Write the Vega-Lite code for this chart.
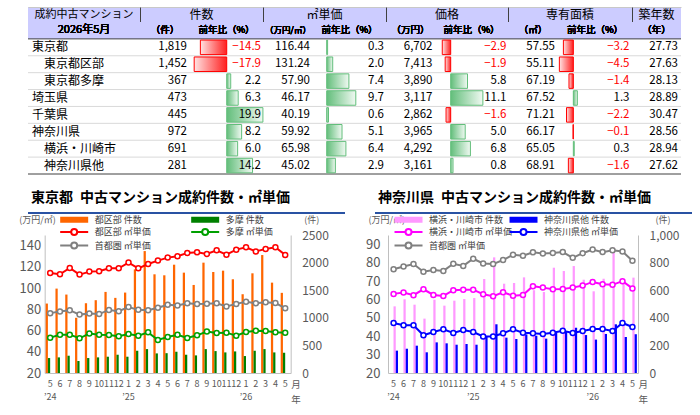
{
"$schema":"https://vega.github.io/schema/vega-lite/v6.json",
"background":"white",
"padding":{"left":18,"top":7,"right":2,"bottom":2},
"config":{"font":"Noto Sans CJK JP","view":{"stroke":null},"text":{"font":"Noto Sans CJK JP"},"title":{"font":"Noto Sans CJK JP"},"axis":{"labelFont":"Noto Sans CJK JP","titleFont":"Noto Sans CJK JP"},"legend":{"labelFont":"Noto Sans CJK JP"}},
"datasets":{
"tbl":[
{"label":"東京都","lv":0,"n":1819,"n_y":-14.5,"u":116.44,"u_y":0.3,"p":6702,"p_y":-2.9,"a":57.55,"a_y":-3.2,"age":27.73},
{"label":"東京都区部","lv":1,"n":1452,"n_y":-17.9,"u":131.24,"u_y":2.0,"p":7413,"p_y":-1.9,"a":55.11,"a_y":-4.5,"age":27.63},
{"label":"東京都多摩","lv":1,"n":367,"n_y":2.2,"u":57.90,"u_y":7.4,"p":3890,"p_y":5.8,"a":67.19,"a_y":-1.4,"age":28.13},
{"label":"埼玉県","lv":0,"n":473,"n_y":6.3,"u":46.17,"u_y":9.7,"p":3117,"p_y":11.1,"a":67.52,"a_y":1.3,"age":28.89},
{"label":"千葉県","lv":0,"n":445,"n_y":19.9,"u":40.19,"u_y":0.6,"p":2862,"p_y":-1.6,"a":71.21,"a_y":-2.2,"age":30.47},
{"label":"神奈川県","lv":0,"n":972,"n_y":8.2,"u":59.92,"u_y":5.1,"p":3965,"p_y":5.0,"a":66.17,"a_y":-0.1,"age":28.56},
{"label":"横浜・川崎市","lv":1,"n":691,"n_y":6.0,"u":65.98,"u_y":6.4,"p":4292,"p_y":6.8,"a":65.05,"a_y":0.3,"age":28.94},
{"label":"神奈川県他","lv":1,"n":281,"n_y":14.2,"u":45.02,"u_y":2.9,"p":3161,"p_y":0.8,"a":68.91,"a_y":-1.6,"age":27.62}
],
"tokyo":[
{"ym":"2024/05","都区部 件数":1258,"多摩 件数":271,"都区部 ㎡単価":114.2,"多摩 ㎡単価":53.3,"首都圏 ㎡単価":76.4},
{"ym":"2024/06","都区部 件数":1529,"多摩 件数":283,"都区部 ㎡単価":113.0,"多摩 ㎡単価":56.1,"首都圏 ㎡単価":77.9},
{"ym":"2024/07","都区部 件数":1421,"多摩 件数":313,"都区部 ㎡単価":119.0,"多摩 ㎡単価":56.1,"首都圏 ㎡単価":79.2},
{"ym":"2024/08","都区部 件数":1000,"多摩 件数":217,"都区部 ㎡単価":112.7,"多摩 ㎡単価":52.7,"首都圏 ㎡単価":75.0},
{"ym":"2024/09","都区部 件数":1264,"多摩 件数":271,"都区部 ㎡単価":115.5,"多摩 ㎡単価":57.1,"首都圏 ㎡単価":76.0},
{"ym":"2024/10","都区部 件数":1319,"多摩 件数":283,"都区部 ㎡単価":115.8,"多摩 ㎡単価":56.1,"首都圏 ㎡単価":75.5},
{"ym":"2024/11","都区部 件数":1469,"多摩 件数":295,"都区部 ㎡単価":118.6,"多摩 ㎡単価":55.8,"首都圏 ㎡単価":79.4},
{"ym":"2024/12","都区部 件数":1361,"多摩 件数":331,"都区部 ㎡単価":118.6,"多摩 ㎡単価":54.6,"首都圏 ㎡単価":78.2},
{"ym":"2025/01","都区部 件数":1457,"多摩 件数":295,"都区部 ㎡単価":124.0,"多摩 ㎡単価":56.8,"首都圏 ㎡単価":82.1},
{"ym":"2025/02","都区部 件数":1878,"多摩 件数":403,"都区部 ㎡単価":118.6,"多摩 ㎡単価":55.2,"首都圏 ㎡単価":79.5},
{"ym":"2025/03","都区部 件数":2209,"多摩 件数":433,"都区部 ㎡単価":122.7,"多摩 ㎡単価":58.3,"首都圏 ㎡単価":79.2},
{"ym":"2025/04","都区部 件数":1788,"多摩 件数":355,"都区部 ㎡単価":125.9,"多摩 ㎡単価":51.1,"首都圏 ㎡単価":81.4},
{"ym":"2025/05","都区部 件数":1770,"多摩 件数":359,"都区部 ㎡単価":128.7,"多摩 ㎡単価":53.9,"首都圏 ㎡単価":84.2},
{"ym":"2025/06","都区部 件数":1962,"多摩 件数":385,"都区部 ㎡単価":130.0,"多摩 ㎡単価":56.1,"首都圏 ㎡単価":83.7},
{"ym":"2025/07","都区部 件数":1818,"多摩 件数":331,"都区部 ㎡単価":133.1,"多摩 ㎡単価":53.0,"首都圏 ㎡単価":85.6},
{"ym":"2025/08","都区部 件数":1595,"多摩 件数":319,"都区部 ㎡単価":133.7,"多摩 ㎡単価":55.5,"首都圏 ㎡単価":85.0},
{"ym":"2025/09","都区部 件数":1999,"多摩 件数":433,"都区部 ㎡単価":132.2,"多摩 ㎡単価":59.0,"首都圏 ㎡単価":85.2},
{"ym":"2025/10","都区部 件数":1830,"多摩 件数":397,"都区部 ㎡単価":135.6,"多摩 ㎡単価":57.7,"首都圏 ㎡単価":85.7},
{"ym":"2025/11","都区部 件数":1854,"多摩 件数":373,"都区部 ㎡単価":131.5,"多摩 ㎡単価":58.0,"首都圏 ㎡単価":82.6},
{"ym":"2025/12","都区部 件数":1698,"多摩 件数":391,"都区部 ㎡単価":136.2,"多摩 ㎡単価":55.2,"首都圏 ㎡単価":85.1},
{"ym":"2026/01","都区部 件数":1427,"多摩 件数":307,"都区部 ㎡単価":138.4,"多摩 ㎡単価":58.6,"首都圏 ㎡単価":87.1},
{"ym":"2026/02","都区部 件数":1806,"多摩 件数":403,"都区部 ㎡単価":134.4,"多摩 ㎡単価":59.9,"首都圏 ㎡単価":85.7},
{"ym":"2026/03","都区部 件数":2137,"多摩 件数":433,"都区部 ㎡単価":136.9,"多摩 ㎡単価":59.6,"首都圏 ㎡単価":86.7},
{"ym":"2026/04","都区部 件数":1637,"多摩 件数":373,"都区部 ㎡単価":138.4,"多摩 ㎡単価":58.3,"首都圏 ㎡単価":86.0},
{"ym":"2026/05","都区部 件数":1452,"多摩 件数":367,"都区部 ㎡単価":131.24,"多摩 ㎡単価":57.90,"首都圏 ㎡単価":81.0}
],
"kana":[
{"ym":"2024/05","横浜・川崎市 件数":483,"神奈川県他 件数":162,"横浜・川崎市 ㎡単価":63.0,"神奈川県他 ㎡単価":47.2,"首都圏 ㎡単価":76.4},
{"ym":"2024/06","横浜・川崎市 件数":534,"神奈川県他 件数":176,"横浜・川崎市 ㎡単価":63.7,"神奈川県他 ㎡単価":45.9,"首都圏 ㎡単価":77.9},
{"ym":"2024/07","横浜・川崎市 件数":495,"神奈川県他 件数":198,"横浜・川崎市 ㎡単価":62.3,"神奈川県他 ㎡単価":45.9,"首都圏 ㎡単価":79.2},
{"ym":"2024/08","横浜・川崎市 件数":394,"神奈川県他 件数":150,"横浜・川崎市 ㎡単価":65.5,"神奈川県他 ㎡単価":40.5,"首都圏 ㎡単価":75.0},
{"ym":"2024/09","横浜・川崎市 件数":531,"神奈川県他 件数":222,"横浜・川崎市 ㎡単価":62.4,"神奈川県他 ㎡単価":42.3,"首都圏 ㎡単価":76.0},
{"ym":"2024/10","横浜・川崎市 件数":488,"神奈川県他 件数":215,"横浜・川崎市 ㎡単価":61.9,"神奈川県他 ㎡単価":43.8,"首都圏 ㎡単価":75.5},
{"ym":"2024/11","横浜・川崎市 件数":524,"神奈川県他 件数":205,"横浜・川崎市 ㎡単価":65.0,"神奈川県他 ㎡単価":41.8,"首都圏 ㎡単価":79.4},
{"ym":"2024/12","横浜・川崎市 件数":536,"神奈川県他 件数":210,"横浜・川崎市 ㎡単価":65.3,"神奈川県他 ㎡単価":43.4,"首都圏 ㎡単価":78.2},
{"ym":"2025/01","横浜・川崎市 件数":543,"神奈川県他 件数":205,"横浜・川崎市 ㎡単価":65.3,"神奈川県他 ㎡単価":42.3,"首都圏 ㎡単価":82.1},
{"ym":"2025/02","横浜・川崎市 件数":681,"神奈川県他 件数":265,"横浜・川崎市 ㎡単価":62.8,"神奈川県他 ㎡単価":39.9,"首都圏 ㎡単価":79.5},
{"ym":"2025/03","横浜・川崎市 件数":838,"神奈川県他 件数":353,"横浜・川崎市 ㎡単価":61.7,"神奈川県他 ㎡単価":39.9,"首都圏 ㎡単価":79.2},
{"ym":"2025/04","横浜・川崎市 件数":647,"神奈川県他 件数":256,"横浜・川崎市 ㎡単価":63.9,"神奈川県他 ㎡単価":41.6,"首都圏 ㎡単価":81.4},
{"ym":"2025/05","横浜・川崎市 件数":652,"神奈川県他 件数":246,"横浜・川崎市 ㎡単価":62.0,"神奈川県他 ㎡単価":43.75,"首都圏 ㎡単価":84.2},
{"ym":"2025/06","横浜・川崎市 件数":693,"神奈川県他 件数":280,"横浜・川崎市 ㎡単価":62.4,"神奈川県他 ㎡単価":41.9,"首都圏 ㎡単価":83.7},
{"ym":"2025/07","横浜・川崎市 件数":600,"神奈川県他 件数":270,"横浜・川崎市 ㎡単価":67.2,"神奈川県他 ㎡単価":41.6,"首都圏 ㎡単価":85.6},
{"ym":"2025/08","横浜・川崎市 件数":587,"神奈川県他 件数":249,"横浜・川崎市 ㎡単価":66.4,"神奈川県他 ㎡単価":41.2,"首都圏 ㎡単価":85.0},
{"ym":"2025/09","横浜・川崎市 件数":763,"神奈川県他 件数":290,"横浜・川崎市 ㎡単価":65.5,"神奈川県他 ㎡単価":41.9,"首都圏 ㎡単価":85.2},
{"ym":"2025/10","横浜・川崎市 件数":739,"神奈川県他 件数":300,"横浜・川崎市 ㎡単価":65.7,"神奈川県他 ㎡単価":43.0,"首都圏 ㎡単価":85.7},
{"ym":"2025/11","横浜・川崎市 件数":775,"神奈川県他 件数":328,"横浜・川崎市 ㎡単価":66.4,"神奈川県他 ㎡単価":41.8,"首都圏 ㎡単価":82.6},
{"ym":"2025/12","横浜・川崎市 件数":676,"神奈川県他 件数":275,"横浜・川崎市 ㎡単価":67.5,"神奈川県他 ㎡単価":42.8,"首都圏 ㎡単価":85.1},
{"ym":"2026/01","横浜・川崎市 件数":592,"神奈川県他 件数":242,"横浜・川崎市 ㎡単価":69.5,"神奈川県他 ㎡単価":43.9,"首都圏 ㎡単価":87.1},
{"ym":"2026/02","横浜・川崎市 件数":683,"神奈川県他 件数":283,"横浜・川崎市 ㎡単価":68.2,"神奈川県他 ㎡単価":43.9,"首都圏 ㎡単価":85.7},
{"ym":"2026/03","横浜・川崎市 件数":908,"神奈川県他 件数":353,"横浜・川崎市 ㎡単価":67.9,"神奈川県他 ㎡単価":42.8,"首都圏 ㎡単価":86.7},
{"ym":"2026/04","横浜・川崎市 件数":660,"神奈川県他 件数":261,"横浜・川崎市 ㎡単価":69.9,"神奈川県他 ㎡単価":47.2,"首都圏 ㎡単価":86.0},
{"ym":"2026/05","横浜・川崎市 件数":691,"神奈川県他 件数":281,"横浜・川崎市 ㎡単価":65.98,"神奈川県他 ㎡単価":45.02,"首都圏 ㎡単価":81.0}
]
},
"spacing":16,
"vconcat":[
{"spacing":0,"vconcat":[
{"spacing":0,"bounds":"flush","hconcat":[
{"width":112,"height":15,"view":{"fill":"#ccccff","stroke":null},"data":{"values":[{}]},"mark":{"type":"text","fontSize":11},"encoding":{"text":{"value":"成約中古マンション"},"x":{"datum":0.5,"type":"quantitative","scale":{"domain":[0,1]},"axis":{"orient":"top","domain":true,"domainColor":"#c8c8c8","labels":false,"ticks":false,"grid":false,"title":null}},"y":{"datum":0.5,"type":"quantitative","scale":{"domain":[0,1]},"axis":null}}},
{"width":123,"height":15,"view":{"fill":"#ccccff","stroke":null},"data":{"values":[{}]},"mark":{"type":"text","fontSize":12},"encoding":{"text":{"value":"件数"},"x":{"datum":0.5,"type":"quantitative","scale":{"domain":[0,1]},"axis":{"orient":"top","domain":true,"domainColor":"#c8c8c8","labels":false,"ticks":false,"grid":false,"title":null}},"y":{"datum":0.5,"type":"quantitative","scale":{"domain":[0,1]},"axis":{"orient":"left","domain":true,"domainColor":"#404040","labels":false,"ticks":false,"grid":false,"title":null,"zindex":1}}}},
{"width":123,"height":15,"view":{"fill":"#ccccff","stroke":null},"data":{"values":[{}]},"mark":{"type":"text","fontSize":12},"encoding":{"text":{"value":"㎡単価"},"x":{"datum":0.5,"type":"quantitative","scale":{"domain":[0,1]},"axis":{"orient":"top","domain":true,"domainColor":"#c8c8c8","labels":false,"ticks":false,"grid":false,"title":null}},"y":{"datum":0.5,"type":"quantitative","scale":{"domain":[0,1]},"axis":{"orient":"left","domain":true,"domainColor":"#404040","labels":false,"ticks":false,"grid":false,"title":null,"zindex":1}}}},
{"width":122,"height":15,"view":{"fill":"#ccccff","stroke":null},"data":{"values":[{}]},"mark":{"type":"text","fontSize":12},"encoding":{"text":{"value":"価格"},"x":{"datum":0.5,"type":"quantitative","scale":{"domain":[0,1]},"axis":{"orient":"top","domain":true,"domainColor":"#c8c8c8","labels":false,"ticks":false,"grid":false,"title":null}},"y":{"datum":0.5,"type":"quantitative","scale":{"domain":[0,1]},"axis":{"orient":"left","domain":true,"domainColor":"#404040","labels":false,"ticks":false,"grid":false,"title":null,"zindex":1}}}},
{"width":124,"height":15,"view":{"fill":"#ccccff","stroke":null},"data":{"values":[{}]},"mark":{"type":"text","fontSize":12},"encoding":{"text":{"value":"専有面積"},"x":{"datum":0.5,"type":"quantitative","scale":{"domain":[0,1]},"axis":{"orient":"top","domain":true,"domainColor":"#c8c8c8","labels":false,"ticks":false,"grid":false,"title":null}},"y":{"datum":0.5,"type":"quantitative","scale":{"domain":[0,1]},"axis":{"orient":"left","domain":true,"domainColor":"#404040","labels":false,"ticks":false,"grid":false,"title":null,"zindex":1}}}},
{"width":49,"height":15,"view":{"fill":"#ccccff","stroke":null},"data":{"values":[{}]},"mark":{"type":"text","fontSize":12},"encoding":{"text":{"value":"築年数"},"x":{"datum":0.5,"type":"quantitative","scale":{"domain":[0,1]},"axis":{"orient":"top","domain":true,"domainColor":"#c8c8c8","labels":false,"ticks":false,"grid":false,"title":null}},"y":{"datum":0.5,"type":"quantitative","scale":{"domain":[0,1]},"axis":{"orient":"left","domain":true,"domainColor":"#404040","labels":false,"ticks":false,"grid":false,"title":null,"zindex":1}}}}
]},
{"spacing":0,"bounds":"flush","hconcat":[
{"width":112,"height":152,"data":{"name":"tbl"},"layer":[
{"mark":{"type":"rect","color":"#ccccff"},"encoding":{"y":{"datum":"h","type":"nominal","scale":{"type":"band","domain":["h","東京都","東京都区部","東京都多摩","埼玉県","千葉県","神奈川県","横浜・川崎市","神奈川県他"],"paddingInner":0,"paddingOuter":0},"axis":null},"x":{"value":0},"x2":{"value":"width"}}},
{"mark":{"type":"rule","strokeWidth":1},"encoding":{"y":{"field":"label","type":"nominal","sort":null,"bandPosition":0,"scale":{"type":"band","domain":["h","東京都","東京都区部","東京都多摩","埼玉県","千葉県","神奈川県","横浜・川崎市","神奈川県他"],"paddingInner":0,"paddingOuter":0},"axis":null},"color":{"condition":{"test":"datum.label=='東京都'","value":"#404040"},"value":"#d9d9d9"}}},
{"transform":[{"filter":"datum.label=='神奈川県他'"}],"mark":{"type":"rule","strokeWidth":1,"color":"#404040"},"encoding":{"y":{"field":"label","type":"nominal","sort":null,"bandPosition":1,"scale":{"type":"band","domain":["h","東京都","東京都区部","東京都多摩","埼玉県","千葉県","神奈川県","横浜・川崎市","神奈川県他"],"paddingInner":0,"paddingOuter":0},"axis":null}}},
{"mark":{"type":"text","fontSize":11},"encoding":{"y":{"datum":"h","type":"nominal","bandPosition":0.5,"scale":{"type":"band","domain":["h","東京都","東京都区部","東京都多摩","埼玉県","千葉県","神奈川県","横浜・川崎市","神奈川県他"],"paddingInner":0,"paddingOuter":0},"axis":null},"text":{"value":"2026年5月"}}},
{"mark":{"type":"text","align":"left","fontSize":12},"encoding":{"y":{"field":"label","type":"nominal","sort":null,"bandPosition":0.5,"scale":{"type":"band","domain":["h","東京都","東京都区部","東京都多摩","埼玉県","千葉県","神奈川県","横浜・川崎市","神奈川県他"],"paddingInner":0,"paddingOuter":0},"axis":null},"x":{"field":"lv","type":"quantitative","scale":{"domain":[0,1],"range":[4,16]},"axis":null},"text":{"field":"label"}}}
]},
{"width":50,"height":152,"data":{"name":"tbl"},"layer":[
{"mark":{"type":"rect","color":"#ccccff"},"encoding":{"y":{"datum":"h","type":"nominal","scale":{"type":"band","domain":["h","東京都","東京都区部","東京都多摩","埼玉県","千葉県","神奈川県","横浜・川崎市","神奈川県他"],"paddingInner":0,"paddingOuter":0},"axis":null},"x":{"value":0},"x2":{"value":"width"}}},
{"mark":{"type":"rule","strokeWidth":1},"encoding":{"y":{"field":"label","type":"nominal","sort":null,"bandPosition":0,"scale":{"type":"band","domain":["h","東京都","東京都区部","東京都多摩","埼玉県","千葉県","神奈川県","横浜・川崎市","神奈川県他"],"paddingInner":0,"paddingOuter":0},"axis":{"orient":"left","domain":true,"domainColor":"#404040","labels":false,"ticks":false,"grid":false,"title":null,"zindex":1}},"color":{"condition":{"test":"datum.label=='東京都'","value":"#404040"},"value":"#d9d9d9"}}},
{"transform":[{"filter":"datum.label=='神奈川県他'"}],"mark":{"type":"rule","strokeWidth":1,"color":"#404040"},"encoding":{"y":{"field":"label","type":"nominal","sort":null,"bandPosition":1,"scale":{"type":"band","domain":["h","東京都","東京都区部","東京都多摩","埼玉県","千葉県","神奈川県","横浜・川崎市","神奈川県他"],"paddingInner":0,"paddingOuter":0},"axis":null}}},
{"mark":{"type":"text","fontSize":9.5},"encoding":{"y":{"datum":"h","type":"nominal","bandPosition":0.5,"scale":{"type":"band","domain":["h","東京都","東京都区部","東京都多摩","埼玉県","千葉県","神奈川県","横浜・川崎市","神奈川県他"],"paddingInner":0,"paddingOuter":0},"axis":null},"text":{"value":"（件）"}}},
{"mark":{"type":"text","align":"right","dx":-3,"fontSize":11.5},"encoding":{"y":{"field":"label","type":"nominal","sort":null,"bandPosition":0.5,"scale":{"type":"band","domain":["h","東京都","東京都区部","東京都多摩","埼玉県","千葉県","神奈川県","横浜・川崎市","神奈川県他"],"paddingInner":0,"paddingOuter":0},"axis":null},"x":{"value":"width"},"text":{"field":"n","type":"quantitative","format":",d"}}}
]},
{"width":73,"height":152,"data":{"name":"tbl"},"layer":[
{"mark":{"type":"rect","color":"#ccccff"},"encoding":{"y":{"datum":"h","type":"nominal","scale":{"type":"band","domain":["h","東京都","東京都区部","東京都多摩","埼玉県","千葉県","神奈川県","横浜・川崎市","神奈川県他"],"paddingInner":0,"paddingOuter":0},"axis":null},"x":{"value":0},"x2":{"value":"width"}}},
{"mark":{"type":"rule","strokeWidth":1},"encoding":{"y":{"field":"label","type":"nominal","sort":null,"bandPosition":0,"scale":{"type":"band","domain":["h","東京都","東京都区部","東京都多摩","埼玉県","千葉県","神奈川県","横浜・川崎市","神奈川県他"],"paddingInner":0,"paddingOuter":0},"axis":{"orient":"left","domain":true,"domainColor":"#d0d0d0","labels":false,"ticks":false,"grid":false,"title":null,"zindex":0}},"color":{"condition":{"test":"datum.label=='東京都'","value":"#404040"},"value":"#d9d9d9"}}},
{"transform":[{"filter":"datum.label=='神奈川県他'"}],"mark":{"type":"rule","strokeWidth":1,"color":"#404040"},"encoding":{"y":{"field":"label","type":"nominal","sort":null,"bandPosition":1,"scale":{"type":"band","domain":["h","東京都","東京都区部","東京都多摩","埼玉県","千葉県","神奈川県","横浜・川崎市","神奈川県他"],"paddingInner":0,"paddingOuter":0},"axis":null}}},
{"transform":[{"filter":"datum.n_y < 0"}],"mark":{"type":"bar","height":{"band":0.86},"fill":{"gradient":"linear","x1":0,"y1":0,"x2":1,"y2":0,"stops":[{"offset":0,"color":"#ffe3e3"},{"offset":1,"color":"#ff1f1f"}]},"stroke":"#ff0000","strokeWidth":1},"encoding":{"y":{"field":"label","type":"nominal","sort":null,"scale":{"type":"band","domain":["h","東京都","東京都区部","東京都多摩","埼玉県","千葉県","神奈川県","横浜・川崎市","神奈川県他"],"paddingInner":0,"paddingOuter":0},"axis":null},"x":{"field":"n_y","type":"quantitative","scale":{"domain":[-20.2,19.95],"nice":false,"zero":false},"axis":null},"x2":{"datum":0}}},
{"transform":[{"filter":"datum.n_y >= 0"}],"mark":{"type":"bar","height":{"band":0.86},"fill":{"gradient":"linear","x1":0,"y1":0,"x2":1,"y2":0,"stops":[{"offset":0,"color":"#63be7b"},{"offset":1,"color":"#f0f9f2"}]},"stroke":"#63be7b","strokeWidth":1},"encoding":{"y":{"field":"label","type":"nominal","sort":null,"scale":{"type":"band","domain":["h","東京都","東京都区部","東京都多摩","埼玉県","千葉県","神奈川県","横浜・川崎市","神奈川県他"],"paddingInner":0,"paddingOuter":0},"axis":null},"x":{"field":"n_y","type":"quantitative","scale":{"domain":[-20.2,19.95],"nice":false,"zero":false},"axis":null},"x2":{"datum":0}}},
{"mark":{"type":"text","fontSize":9.5},"encoding":{"y":{"datum":"h","type":"nominal","bandPosition":0.5,"scale":{"type":"band","domain":["h","東京都","東京都区部","東京都多摩","埼玉県","千葉県","神奈川県","横浜・川崎市","神奈川県他"],"paddingInner":0,"paddingOuter":0},"axis":null},"text":{"value":"前年比（%）"}}},
{"mark":{"type":"text","align":"right","dx":-2,"fontSize":11.5},"encoding":{"y":{"field":"label","type":"nominal","sort":null,"bandPosition":0.5,"scale":{"type":"band","domain":["h","東京都","東京都区部","東京都多摩","埼玉県","千葉県","神奈川県","横浜・川崎市","神奈川県他"],"paddingInner":0,"paddingOuter":0},"axis":null},"x":{"value":"width"},"text":{"field":"n_y","type":"quantitative","format":".1f"},"color":{"condition":{"test":"datum.n_y < 0","value":"#ff0000"},"value":"#000000"}}}
]},
{"width":50,"height":152,"data":{"name":"tbl"},"layer":[
{"mark":{"type":"rect","color":"#ccccff"},"encoding":{"y":{"datum":"h","type":"nominal","scale":{"type":"band","domain":["h","東京都","東京都区部","東京都多摩","埼玉県","千葉県","神奈川県","横浜・川崎市","神奈川県他"],"paddingInner":0,"paddingOuter":0},"axis":null},"x":{"value":0},"x2":{"value":"width"}}},
{"mark":{"type":"rule","strokeWidth":1},"encoding":{"y":{"field":"label","type":"nominal","sort":null,"bandPosition":0,"scale":{"type":"band","domain":["h","東京都","東京都区部","東京都多摩","埼玉県","千葉県","神奈川県","横浜・川崎市","神奈川県他"],"paddingInner":0,"paddingOuter":0},"axis":{"orient":"left","domain":true,"domainColor":"#404040","labels":false,"ticks":false,"grid":false,"title":null,"zindex":1}},"color":{"condition":{"test":"datum.label=='東京都'","value":"#404040"},"value":"#d9d9d9"}}},
{"transform":[{"filter":"datum.label=='神奈川県他'"}],"mark":{"type":"rule","strokeWidth":1,"color":"#404040"},"encoding":{"y":{"field":"label","type":"nominal","sort":null,"bandPosition":1,"scale":{"type":"band","domain":["h","東京都","東京都区部","東京都多摩","埼玉県","千葉県","神奈川県","横浜・川崎市","神奈川県他"],"paddingInner":0,"paddingOuter":0},"axis":null}}},
{"mark":{"type":"text","fontSize":8.5},"encoding":{"y":{"datum":"h","type":"nominal","bandPosition":0.5,"scale":{"type":"band","domain":["h","東京都","東京都区部","東京都多摩","埼玉県","千葉県","神奈川県","横浜・川崎市","神奈川県他"],"paddingInner":0,"paddingOuter":0},"axis":null},"text":{"value":"（万円/㎡）"}}},
{"mark":{"type":"text","align":"right","dx":-3,"fontSize":11.5},"encoding":{"y":{"field":"label","type":"nominal","sort":null,"bandPosition":0.5,"scale":{"type":"band","domain":["h","東京都","東京都区部","東京都多摩","埼玉県","千葉県","神奈川県","横浜・川崎市","神奈川県他"],"paddingInner":0,"paddingOuter":0},"axis":null},"x":{"value":"width"},"text":{"field":"u","type":"quantitative","format":".2f"}}}
]},
{"width":73,"height":152,"data":{"name":"tbl"},"layer":[
{"mark":{"type":"rect","color":"#ccccff"},"encoding":{"y":{"datum":"h","type":"nominal","scale":{"type":"band","domain":["h","東京都","東京都区部","東京都多摩","埼玉県","千葉県","神奈川県","横浜・川崎市","神奈川県他"],"paddingInner":0,"paddingOuter":0},"axis":null},"x":{"value":0},"x2":{"value":"width"}}},
{"mark":{"type":"rule","strokeWidth":1},"encoding":{"y":{"field":"label","type":"nominal","sort":null,"bandPosition":0,"scale":{"type":"band","domain":["h","東京都","東京都区部","東京都多摩","埼玉県","千葉県","神奈川県","横浜・川崎市","神奈川県他"],"paddingInner":0,"paddingOuter":0},"axis":{"orient":"left","domain":true,"domainColor":"#d0d0d0","labels":false,"ticks":false,"grid":false,"title":null,"zindex":0}},"color":{"condition":{"test":"datum.label=='東京都'","value":"#404040"},"value":"#d9d9d9"}}},
{"transform":[{"filter":"datum.label=='神奈川県他'"}],"mark":{"type":"rule","strokeWidth":1,"color":"#404040"},"encoding":{"y":{"field":"label","type":"nominal","sort":null,"bandPosition":1,"scale":{"type":"band","domain":["h","東京都","東京都区部","東京都多摩","埼玉県","千葉県","神奈川県","横浜・川崎市","神奈川県他"],"paddingInner":0,"paddingOuter":0},"axis":null}}},
{"transform":[{"filter":"datum.u_y < 0"}],"mark":{"type":"bar","height":{"band":0.86},"fill":{"gradient":"linear","x1":0,"y1":0,"x2":1,"y2":0,"stops":[{"offset":0,"color":"#ffe3e3"},{"offset":1,"color":"#ff1f1f"}]},"stroke":"#ff0000","strokeWidth":1},"encoding":{"y":{"field":"label","type":"nominal","sort":null,"scale":{"type":"band","domain":["h","東京都","東京都区部","東京都多摩","埼玉県","千葉県","神奈川県","横浜・川崎市","神奈川県他"],"paddingInner":0,"paddingOuter":0},"axis":null},"x":{"field":"u_y","type":"quantitative","scale":{"domain":[-4.57,19.77],"nice":false,"zero":false},"axis":null},"x2":{"datum":0}}},
{"transform":[{"filter":"datum.u_y >= 0"}],"mark":{"type":"bar","height":{"band":0.86},"fill":{"gradient":"linear","x1":0,"y1":0,"x2":1,"y2":0,"stops":[{"offset":0,"color":"#63be7b"},{"offset":1,"color":"#f0f9f2"}]},"stroke":"#63be7b","strokeWidth":1},"encoding":{"y":{"field":"label","type":"nominal","sort":null,"scale":{"type":"band","domain":["h","東京都","東京都区部","東京都多摩","埼玉県","千葉県","神奈川県","横浜・川崎市","神奈川県他"],"paddingInner":0,"paddingOuter":0},"axis":null},"x":{"field":"u_y","type":"quantitative","scale":{"domain":[-4.57,19.77],"nice":false,"zero":false},"axis":null},"x2":{"datum":0}}},
{"mark":{"type":"text","fontSize":9.5},"encoding":{"y":{"datum":"h","type":"nominal","bandPosition":0.5,"scale":{"type":"band","domain":["h","東京都","東京都区部","東京都多摩","埼玉県","千葉県","神奈川県","横浜・川崎市","神奈川県他"],"paddingInner":0,"paddingOuter":0},"axis":null},"text":{"value":"前年比（%）"}}},
{"mark":{"type":"text","align":"right","dx":-2,"fontSize":11.5},"encoding":{"y":{"field":"label","type":"nominal","sort":null,"bandPosition":0.5,"scale":{"type":"band","domain":["h","東京都","東京都区部","東京都多摩","埼玉県","千葉県","神奈川県","横浜・川崎市","神奈川県他"],"paddingInner":0,"paddingOuter":0},"axis":null},"x":{"value":"width"},"text":{"field":"u_y","type":"quantitative","format":".1f"},"color":{"condition":{"test":"datum.u_y < 0","value":"#ff0000"},"value":"#000000"}}}
]},
{"width":49,"height":152,"data":{"name":"tbl"},"layer":[
{"mark":{"type":"rect","color":"#ccccff"},"encoding":{"y":{"datum":"h","type":"nominal","scale":{"type":"band","domain":["h","東京都","東京都区部","東京都多摩","埼玉県","千葉県","神奈川県","横浜・川崎市","神奈川県他"],"paddingInner":0,"paddingOuter":0},"axis":null},"x":{"value":0},"x2":{"value":"width"}}},
{"mark":{"type":"rule","strokeWidth":1},"encoding":{"y":{"field":"label","type":"nominal","sort":null,"bandPosition":0,"scale":{"type":"band","domain":["h","東京都","東京都区部","東京都多摩","埼玉県","千葉県","神奈川県","横浜・川崎市","神奈川県他"],"paddingInner":0,"paddingOuter":0},"axis":{"orient":"left","domain":true,"domainColor":"#404040","labels":false,"ticks":false,"grid":false,"title":null,"zindex":1}},"color":{"condition":{"test":"datum.label=='東京都'","value":"#404040"},"value":"#d9d9d9"}}},
{"transform":[{"filter":"datum.label=='神奈川県他'"}],"mark":{"type":"rule","strokeWidth":1,"color":"#404040"},"encoding":{"y":{"field":"label","type":"nominal","sort":null,"bandPosition":1,"scale":{"type":"band","domain":["h","東京都","東京都区部","東京都多摩","埼玉県","千葉県","神奈川県","横浜・川崎市","神奈川県他"],"paddingInner":0,"paddingOuter":0},"axis":null}}},
{"mark":{"type":"text","fontSize":9.5},"encoding":{"y":{"datum":"h","type":"nominal","bandPosition":0.5,"scale":{"type":"band","domain":["h","東京都","東京都区部","東京都多摩","埼玉県","千葉県","神奈川県","横浜・川崎市","神奈川県他"],"paddingInner":0,"paddingOuter":0},"axis":null},"text":{"value":"（万円）"}}},
{"mark":{"type":"text","align":"right","dx":-2.5,"fontSize":11.5},"encoding":{"y":{"field":"label","type":"nominal","sort":null,"bandPosition":0.5,"scale":{"type":"band","domain":["h","東京都","東京都区部","東京都多摩","埼玉県","千葉県","神奈川県","横浜・川崎市","神奈川県他"],"paddingInner":0,"paddingOuter":0},"axis":null},"x":{"value":"width"},"text":{"field":"p","type":"quantitative","format":",d"}}}
]},
{"width":73,"height":152,"data":{"name":"tbl"},"layer":[
{"mark":{"type":"rect","color":"#ccccff"},"encoding":{"y":{"datum":"h","type":"nominal","scale":{"type":"band","domain":["h","東京都","東京都区部","東京都多摩","埼玉県","千葉県","神奈川県","横浜・川崎市","神奈川県他"],"paddingInner":0,"paddingOuter":0},"axis":null},"x":{"value":0},"x2":{"value":"width"}}},
{"mark":{"type":"rule","strokeWidth":1},"encoding":{"y":{"field":"label","type":"nominal","sort":null,"bandPosition":0,"scale":{"type":"band","domain":["h","東京都","東京都区部","東京都多摩","埼玉県","千葉県","神奈川県","横浜・川崎市","神奈川県他"],"paddingInner":0,"paddingOuter":0},"axis":{"orient":"left","domain":true,"domainColor":"#d0d0d0","labels":false,"ticks":false,"grid":false,"title":null,"zindex":0}},"color":{"condition":{"test":"datum.label=='東京都'","value":"#404040"},"value":"#d9d9d9"}}},
{"transform":[{"filter":"datum.label=='神奈川県他'"}],"mark":{"type":"rule","strokeWidth":1,"color":"#404040"},"encoding":{"y":{"field":"label","type":"nominal","sort":null,"bandPosition":1,"scale":{"type":"band","domain":["h","東京都","東京都区部","東京都多摩","埼玉県","千葉県","神奈川県","横浜・川崎市","神奈川県他"],"paddingInner":0,"paddingOuter":0},"axis":null}}},
{"transform":[{"filter":"datum.p_y < 0"}],"mark":{"type":"bar","height":{"band":0.86},"fill":{"gradient":"linear","x1":0,"y1":0,"x2":1,"y2":0,"stops":[{"offset":0,"color":"#ffe3e3"},{"offset":1,"color":"#ff1f1f"}]},"stroke":"#ff0000","strokeWidth":1},"encoding":{"y":{"field":"label","type":"nominal","sort":null,"scale":{"type":"band","domain":["h","東京都","東京都区部","東京都多摩","埼玉県","千葉県","神奈川県","横浜・川崎市","神奈川県他"],"paddingInner":0,"paddingOuter":0},"axis":null},"x":{"field":"p_y","type":"quantitative","scale":{"domain":[-5.41,19.76],"nice":false,"zero":false},"axis":null},"x2":{"datum":0}}},
{"transform":[{"filter":"datum.p_y >= 0"}],"mark":{"type":"bar","height":{"band":0.86},"fill":{"gradient":"linear","x1":0,"y1":0,"x2":1,"y2":0,"stops":[{"offset":0,"color":"#63be7b"},{"offset":1,"color":"#f0f9f2"}]},"stroke":"#63be7b","strokeWidth":1},"encoding":{"y":{"field":"label","type":"nominal","sort":null,"scale":{"type":"band","domain":["h","東京都","東京都区部","東京都多摩","埼玉県","千葉県","神奈川県","横浜・川崎市","神奈川県他"],"paddingInner":0,"paddingOuter":0},"axis":null},"x":{"field":"p_y","type":"quantitative","scale":{"domain":[-5.41,19.76],"nice":false,"zero":false},"axis":null},"x2":{"datum":0}}},
{"mark":{"type":"text","fontSize":9.5},"encoding":{"y":{"datum":"h","type":"nominal","bandPosition":0.5,"scale":{"type":"band","domain":["h","東京都","東京都区部","東京都多摩","埼玉県","千葉県","神奈川県","横浜・川崎市","神奈川県他"],"paddingInner":0,"paddingOuter":0},"axis":null},"text":{"value":"前年比（%）"}}},
{"mark":{"type":"text","align":"right","dx":-1.5,"fontSize":11.5},"encoding":{"y":{"field":"label","type":"nominal","sort":null,"bandPosition":0.5,"scale":{"type":"band","domain":["h","東京都","東京都区部","東京都多摩","埼玉県","千葉県","神奈川県","横浜・川崎市","神奈川県他"],"paddingInner":0,"paddingOuter":0},"axis":null},"x":{"value":"width"},"text":{"field":"p_y","type":"quantitative","format":".1f"},"color":{"condition":{"test":"datum.p_y < 0","value":"#ff0000"},"value":"#000000"}}}
]},
{"width":50,"height":152,"data":{"name":"tbl"},"layer":[
{"mark":{"type":"rect","color":"#ccccff"},"encoding":{"y":{"datum":"h","type":"nominal","scale":{"type":"band","domain":["h","東京都","東京都区部","東京都多摩","埼玉県","千葉県","神奈川県","横浜・川崎市","神奈川県他"],"paddingInner":0,"paddingOuter":0},"axis":null},"x":{"value":0},"x2":{"value":"width"}}},
{"mark":{"type":"rule","strokeWidth":1},"encoding":{"y":{"field":"label","type":"nominal","sort":null,"bandPosition":0,"scale":{"type":"band","domain":["h","東京都","東京都区部","東京都多摩","埼玉県","千葉県","神奈川県","横浜・川崎市","神奈川県他"],"paddingInner":0,"paddingOuter":0},"axis":{"orient":"left","domain":true,"domainColor":"#404040","labels":false,"ticks":false,"grid":false,"title":null,"zindex":1}},"color":{"condition":{"test":"datum.label=='東京都'","value":"#404040"},"value":"#d9d9d9"}}},
{"transform":[{"filter":"datum.label=='神奈川県他'"}],"mark":{"type":"rule","strokeWidth":1,"color":"#404040"},"encoding":{"y":{"field":"label","type":"nominal","sort":null,"bandPosition":1,"scale":{"type":"band","domain":["h","東京都","東京都区部","東京都多摩","埼玉県","千葉県","神奈川県","横浜・川崎市","神奈川県他"],"paddingInner":0,"paddingOuter":0},"axis":null}}},
{"mark":{"type":"text","fontSize":9.5},"encoding":{"y":{"datum":"h","type":"nominal","bandPosition":0.5,"scale":{"type":"band","domain":["h","東京都","東京都区部","東京都多摩","埼玉県","千葉県","神奈川県","横浜・川崎市","神奈川県他"],"paddingInner":0,"paddingOuter":0},"axis":null},"text":{"value":"（㎡）"}}},
{"mark":{"type":"text","align":"right","dx":-3,"fontSize":11.5},"encoding":{"y":{"field":"label","type":"nominal","sort":null,"bandPosition":0.5,"scale":{"type":"band","domain":["h","東京都","東京都区部","東京都多摩","埼玉県","千葉県","神奈川県","横浜・川崎市","神奈川県他"],"paddingInner":0,"paddingOuter":0},"axis":null},"x":{"value":"width"},"text":{"field":"a","type":"quantitative","format":".2f"}}}
]},
{"width":74,"height":152,"data":{"name":"tbl"},"layer":[
{"mark":{"type":"rect","color":"#ccccff"},"encoding":{"y":{"datum":"h","type":"nominal","scale":{"type":"band","domain":["h","東京都","東京都区部","東京都多摩","埼玉県","千葉県","神奈川県","横浜・川崎市","神奈川県他"],"paddingInner":0,"paddingOuter":0},"axis":null},"x":{"value":0},"x2":{"value":"width"}}},
{"mark":{"type":"rule","strokeWidth":1},"encoding":{"y":{"field":"label","type":"nominal","sort":null,"bandPosition":0,"scale":{"type":"band","domain":["h","東京都","東京都区部","東京都多摩","埼玉県","千葉県","神奈川県","横浜・川崎市","神奈川県他"],"paddingInner":0,"paddingOuter":0},"axis":{"orient":"left","domain":true,"domainColor":"#d0d0d0","labels":false,"ticks":false,"grid":false,"title":null,"zindex":0}},"color":{"condition":{"test":"datum.label=='東京都'","value":"#404040"},"value":"#d9d9d9"}}},
{"transform":[{"filter":"datum.label=='神奈川県他'"}],"mark":{"type":"rule","strokeWidth":1,"color":"#404040"},"encoding":{"y":{"field":"label","type":"nominal","sort":null,"bandPosition":1,"scale":{"type":"band","domain":["h","東京都","東京都区部","東京都多摩","埼玉県","千葉県","神奈川県","横浜・川崎市","神奈川県他"],"paddingInner":0,"paddingOuter":0},"axis":null}}},
{"transform":[{"filter":"datum.a_y < 0"}],"mark":{"type":"bar","height":{"band":0.86},"fill":{"gradient":"linear","x1":0,"y1":0,"x2":1,"y2":0,"stops":[{"offset":0,"color":"#ffe3e3"},{"offset":1,"color":"#ff1f1f"}]},"stroke":"#ff0000","strokeWidth":1},"encoding":{"y":{"field":"label","type":"nominal","sort":null,"scale":{"type":"band","domain":["h","東京都","東京都区部","東京都多摩","埼玉県","千葉県","神奈川県","横浜・川崎市","神奈川県他"],"paddingInner":0,"paddingOuter":0},"axis":null},"x":{"field":"a_y","type":"quantitative","scale":{"domain":[-4.94,18.9],"nice":false,"zero":false},"axis":null},"x2":{"datum":0}}},
{"transform":[{"filter":"datum.a_y >= 0"}],"mark":{"type":"bar","height":{"band":0.86},"fill":{"gradient":"linear","x1":0,"y1":0,"x2":1,"y2":0,"stops":[{"offset":0,"color":"#63be7b"},{"offset":1,"color":"#f0f9f2"}]},"stroke":"#63be7b","strokeWidth":1},"encoding":{"y":{"field":"label","type":"nominal","sort":null,"scale":{"type":"band","domain":["h","東京都","東京都区部","東京都多摩","埼玉県","千葉県","神奈川県","横浜・川崎市","神奈川県他"],"paddingInner":0,"paddingOuter":0},"axis":null},"x":{"field":"a_y","type":"quantitative","scale":{"domain":[-4.94,18.9],"nice":false,"zero":false},"axis":null},"x2":{"datum":0}}},
{"mark":{"type":"text","fontSize":9.5},"encoding":{"y":{"datum":"h","type":"nominal","bandPosition":0.5,"scale":{"type":"band","domain":["h","東京都","東京都区部","東京都多摩","埼玉県","千葉県","神奈川県","横浜・川崎市","神奈川県他"],"paddingInner":0,"paddingOuter":0},"axis":null},"text":{"value":"前年比（%）"}}},
{"mark":{"type":"text","align":"right","dx":-2.5,"fontSize":11.5},"encoding":{"y":{"field":"label","type":"nominal","sort":null,"bandPosition":0.5,"scale":{"type":"band","domain":["h","東京都","東京都区部","東京都多摩","埼玉県","千葉県","神奈川県","横浜・川崎市","神奈川県他"],"paddingInner":0,"paddingOuter":0},"axis":null},"x":{"value":"width"},"text":{"field":"a_y","type":"quantitative","format":".1f"},"color":{"condition":{"test":"datum.a_y < 0","value":"#ff0000"},"value":"#000000"}}}
]},
{"width":49,"height":152,"data":{"name":"tbl"},"layer":[
{"mark":{"type":"rect","color":"#ccccff"},"encoding":{"y":{"datum":"h","type":"nominal","scale":{"type":"band","domain":["h","東京都","東京都区部","東京都多摩","埼玉県","千葉県","神奈川県","横浜・川崎市","神奈川県他"],"paddingInner":0,"paddingOuter":0},"axis":null},"x":{"value":0},"x2":{"value":"width"}}},
{"mark":{"type":"rule","strokeWidth":1},"encoding":{"y":{"field":"label","type":"nominal","sort":null,"bandPosition":0,"scale":{"type":"band","domain":["h","東京都","東京都区部","東京都多摩","埼玉県","千葉県","神奈川県","横浜・川崎市","神奈川県他"],"paddingInner":0,"paddingOuter":0},"axis":{"orient":"left","domain":true,"domainColor":"#404040","labels":false,"ticks":false,"grid":false,"title":null,"zindex":1}},"color":{"condition":{"test":"datum.label=='東京都'","value":"#404040"},"value":"#d9d9d9"}}},
{"transform":[{"filter":"datum.label=='神奈川県他'"}],"mark":{"type":"rule","strokeWidth":1,"color":"#404040"},"encoding":{"y":{"field":"label","type":"nominal","sort":null,"bandPosition":1,"scale":{"type":"band","domain":["h","東京都","東京都区部","東京都多摩","埼玉県","千葉県","神奈川県","横浜・川崎市","神奈川県他"],"paddingInner":0,"paddingOuter":0},"axis":null}}},
{"mark":{"type":"text","fontSize":9.5},"encoding":{"y":{"datum":"h","type":"nominal","bandPosition":0.5,"scale":{"type":"band","domain":["h","東京都","東京都区部","東京都多摩","埼玉県","千葉県","神奈川県","横浜・川崎市","神奈川県他"],"paddingInner":0,"paddingOuter":0},"axis":null},"text":{"value":"（年）"}}},
{"mark":{"type":"text","align":"right","dx":-3,"fontSize":11.5},"encoding":{"y":{"field":"label","type":"nominal","sort":null,"bandPosition":0.5,"scale":{"type":"band","domain":["h","東京都","東京都区部","東京都多摩","埼玉県","千葉県","神奈川県","横浜・川崎市","神奈川県他"],"paddingInner":0,"paddingOuter":0},"axis":null},"x":{"value":"width"},"text":{"field":"age","type":"quantitative","format":".2f"}}}
]}
]}
]},
{"spacing":20,"hconcat":[
{"spacing":-3,"center":true,"vconcat":[
{"width":317,"height":2,"view":{"fill":"#2952a3","stroke":null},"title":{"text":"東京都\u2002中古マンション成約件数・㎡単価","anchor":"start","dx":3,"offset":2,"fontSize":14,"fontWeight":"bold","color":"#000000"},"data":{"values":[{}]},"mark":"text","encoding":{"text":{"value":""}}},
{"width":246,"height":138,"data":{"name":"tokyo"},
"layer":[
{"transform":[{"fold":["都区部 件数","多摩 件数"],"as":["series","v"]}],"mark":{"type":"bar"},
"encoding":{"x":{"field":"ym","type":"nominal","scale":{"paddingInner":0.08,"paddingOuter":0.1},"axis":{"orient":"bottom","labelExpr":"(datum.value=='2024/05'||substring(datum.value,5,7)=='01') ? '’'+substring(datum.value,2,4) : ''","labelAngle":0,"labelFontSize":9,"labelColor":"#595959","labelPadding":19,"labelOverlap":false,"ticks":false,"domain":false,"grid":false,"title":"年","titleAngle":0,"titleAlign":"left","titleBaseline":"top","titleX":246,"titleY":21,"titleFontSize":9.5,"titleFontWeight":"normal","titleColor":"#595959"}},
"xOffset":{"field":"series","type":"nominal","scale":{"domain":["都区部 件数","多摩 件数"],"paddingInner":0,"paddingOuter":0}},
"y":{"field":"v","type":"quantitative","scale":{"domain":[0,2500],"nice":false},"axis":{"orient":"right","values":[0,500,1000,1500,2000,2500],"format":"d","labelFontSize":12,"labelColor":"#595959","labelPadding":11,"ticks":false,"grid":false,"domainColor":"#bfbfbf","title":"(件)","titleAngle":0,"titleAlign":"left","titleBaseline":"middle","titleX":13,"titleY":-16,"titleFontSize":9,"titleFontWeight":"normal","titleColor":"#595959"}},
"color":{"field":"series","type":"nominal","scale":{"domain":["都区部 件数","多摩 件数"],"range":["#ff6600","#008000"]},"legend":null}}},
{"transform":[{"fold":["都区部 ㎡単価","多摩 ㎡単価","首都圏 ㎡単価"],"as":["series","v"]}],"mark":{"type":"line","strokeWidth":2,"point":{"filled":false,"fill":"white","size":25,"strokeWidth":1.5,"opacity":1}},
"encoding":{"x":{"field":"ym","type":"nominal","scale":{"paddingInner":0.08,"paddingOuter":0.1},"axis":{"orient":"bottom","title":"月","titleAngle":0,"titleAlign":"left","titleBaseline":"top","titleX":246,"titleY":6,"titleFontSize":9.5,"titleFontWeight":"normal","titleColor":"#595959","labelExpr":"''+toNumber(substring(datum.value,5,7))","labelAngle":0,"labelFontSize":9,"labelColor":"#595959","labelPadding":6,"labelOverlap":false,"ticks":false,"domainColor":"#bfbfbf","grid":false}},
"y":{"field":"v","type":"quantitative","scale":{"domain":[20,150],"nice":false,"zero":false},"axis":{"orient":"left","values":[20,40,60,80,100,120,140],"labelFontSize":13,"labelColor":"#595959","labelPadding":4,"ticks":false,"grid":false,"domainColor":"#bfbfbf","title":"(万円/㎡)","titleAngle":0,"titleAlign":"left","titleBaseline":"middle","titleX":-26,"titleY":-16,"titleFontSize":9,"titleFontWeight":"normal","titleColor":"#595959"}},
"color":{"field":"series","type":"nominal","scale":{"domain":["都区部 ㎡単価","多摩 ㎡単価","首都圏 ㎡単価"],"range":["#ff0000","#00a000","#808080"]},"legend":null}}},
{"transform":[{"filter":"false"}],"mark":{"type":"point","filled":false,"opacity":1},
"encoding":{"color":{"field":"series","type":"nominal","scale":{"domain":["都区部 件数","都区部 ㎡単価","首都圏 ㎡単価","多摩 件数","多摩 ㎡単価"],"range":["#ff6600","#ff0000","#808080","#008000","#00a000"]},"legend":{"orient":"none","legendX":25,"legendY":-20,"title":null,"columns":2,"columnPadding":35,"rowPadding":-1.5,"symbolSize":4,"symbolStrokeWidth":2,"labelOffset":16,"labelFontSize":9,"labelColor":"#404040","padding":0}},
"shape":{"field":"series","type":"nominal","scale":{"domain":["都区部 件数","都区部 ㎡単価","首都圏 ㎡単価","多摩 件数","多摩 ㎡単価"],"range":["M-14,-2H14M-14,0H14M-14,2H14","M-14,0H-3M3,0H14M3,0A3,3 0 1 1 -3,0A3,3 0 1 1 3,0","M-14,0H-3M3,0H14M3,0A3,3 0 1 1 -3,0A3,3 0 1 1 3,0","M-14,-2H14M-14,0H14M-14,2H14","M-14,0H-3M3,0H14M3,0A3,3 0 1 1 -3,0A3,3 0 1 1 3,0"]},"legend":{"orient":"none","legendX":25,"legendY":-20,"title":null,"columns":2,"columnPadding":35,"rowPadding":-1.5,"symbolSize":4,"symbolStrokeWidth":2,"labelOffset":16,"labelFontSize":9,"labelColor":"#404040","padding":0}}}}
],
"resolve":{"scale":{"y":"independent","color":"independent","shape":"independent"},"axis":{"y":"independent","x":"independent"}}}
]},
{"spacing":-3,"center":true,"vconcat":[
{"width":317,"height":2,"view":{"fill":"#2952a3","stroke":null},"title":{"text":"神奈川県\u2002中古マンション成約件数・㎡単価","anchor":"start","dx":3,"offset":2,"fontSize":14,"fontWeight":"bold","color":"#000000"},"data":{"values":[{}]},"mark":"text","encoding":{"text":{"value":""}}},
{"width":250,"height":138,"data":{"name":"kana"},
"layer":[
{"transform":[{"fold":["横浜・川崎市 件数","神奈川県他 件数"],"as":["series","v"]}],"mark":{"type":"bar"},
"encoding":{"x":{"field":"ym","type":"nominal","scale":{"paddingInner":0.08,"paddingOuter":0.1},"axis":{"orient":"bottom","labelExpr":"(datum.value=='2024/05'||substring(datum.value,5,7)=='01') ? '’'+substring(datum.value,2,4) : ''","labelAngle":0,"labelFontSize":9,"labelColor":"#595959","labelPadding":19,"labelOverlap":false,"ticks":false,"domain":false,"grid":false,"title":"年","titleAngle":0,"titleAlign":"left","titleBaseline":"top","titleX":250,"titleY":21,"titleFontSize":9.5,"titleFontWeight":"normal","titleColor":"#595959"}},
"xOffset":{"field":"series","type":"nominal","scale":{"domain":["横浜・川崎市 件数","神奈川県他 件数"],"paddingInner":0,"paddingOuter":0}},
"y":{"field":"v","type":"quantitative","scale":{"domain":[0,1000],"nice":false},"axis":{"orient":"right","values":[0,200,400,600,800,1000],"format":",d","labelFontSize":12,"labelColor":"#595959","labelPadding":11,"ticks":false,"grid":false,"domainColor":"#bfbfbf","title":"(件)","titleAngle":0,"titleAlign":"left","titleBaseline":"middle","titleX":17,"titleY":-16,"titleFontSize":9,"titleFontWeight":"normal","titleColor":"#595959"}},
"color":{"field":"series","type":"nominal","scale":{"domain":["横浜・川崎市 件数","神奈川県他 件数"],"range":["#ff99ff","#0000ff"]},"legend":null}}},
{"transform":[{"fold":["横浜・川崎市 ㎡単価","神奈川県他 ㎡単価","首都圏 ㎡単価"],"as":["series","v"]}],"mark":{"type":"line","strokeWidth":2,"point":{"filled":false,"fill":"white","size":25,"strokeWidth":1.5,"opacity":1}},
"encoding":{"x":{"field":"ym","type":"nominal","scale":{"paddingInner":0.08,"paddingOuter":0.1},"axis":{"orient":"bottom","title":"月","titleAngle":0,"titleAlign":"left","titleBaseline":"top","titleX":250,"titleY":6,"titleFontSize":9.5,"titleFontWeight":"normal","titleColor":"#595959","labelExpr":"''+toNumber(substring(datum.value,5,7))","labelAngle":0,"labelFontSize":9,"labelColor":"#595959","labelPadding":6,"labelOverlap":false,"ticks":false,"domainColor":"#bfbfbf","grid":false}},
"y":{"field":"v","type":"quantitative","scale":{"domain":[20,95],"nice":false,"zero":false},"axis":{"orient":"left","values":[20,30,40,50,60,70,80,90],"labelFontSize":13,"labelColor":"#595959","labelPadding":8,"ticks":false,"grid":false,"domainColor":"#bfbfbf","title":"(万円/㎡)","titleAngle":0,"titleAlign":"left","titleBaseline":"middle","titleX":-20,"titleY":-16,"titleFontSize":9,"titleFontWeight":"normal","titleColor":"#595959"}},
"color":{"field":"series","type":"nominal","scale":{"domain":["横浜・川崎市 ㎡単価","神奈川県他 ㎡単価","首都圏 ㎡単価"],"range":["#ff00ff","#0000ff","#808080"]},"legend":null}}},
{"transform":[{"filter":"false"}],"mark":{"type":"point","filled":false,"opacity":1},
"encoding":{"color":{"field":"series","type":"nominal","scale":{"domain":["横浜・川崎市 件数","横浜・川崎市 ㎡単価","首都圏 ㎡単価","神奈川県他 件数","神奈川県他 ㎡単価"],"range":["#ff99ff","#ff00ff","#808080","#0000ff","#0000ff"]},"legend":{"orient":"none","legendX":16,"legendY":-20,"title":null,"columns":2,"columnPadding":-8,"rowPadding":-1.5,"symbolSize":4,"symbolStrokeWidth":2,"labelOffset":16,"labelFontSize":9,"labelColor":"#404040","padding":0}},
"shape":{"field":"series","type":"nominal","scale":{"domain":["横浜・川崎市 件数","横浜・川崎市 ㎡単価","首都圏 ㎡単価","神奈川県他 件数","神奈川県他 ㎡単価"],"range":["M-14,-2H14M-14,0H14M-14,2H14","M-14,0H-3M3,0H14M3,0A3,3 0 1 1 -3,0A3,3 0 1 1 3,0","M-14,0H-3M3,0H14M3,0A3,3 0 1 1 -3,0A3,3 0 1 1 3,0","M-14,-2H14M-14,0H14M-14,2H14","M-14,0H-3M3,0H14M3,0A3,3 0 1 1 -3,0A3,3 0 1 1 3,0"]},"legend":{"orient":"none","legendX":16,"legendY":-20,"title":null,"columns":2,"columnPadding":-8,"rowPadding":-1.5,"symbolSize":4,"symbolStrokeWidth":2,"labelOffset":16,"labelFontSize":9,"labelColor":"#404040","padding":0}}}}
],
"resolve":{"scale":{"y":"independent","color":"independent","shape":"independent"},"axis":{"y":"independent","x":"independent"}}}
]}
]}
]
}
